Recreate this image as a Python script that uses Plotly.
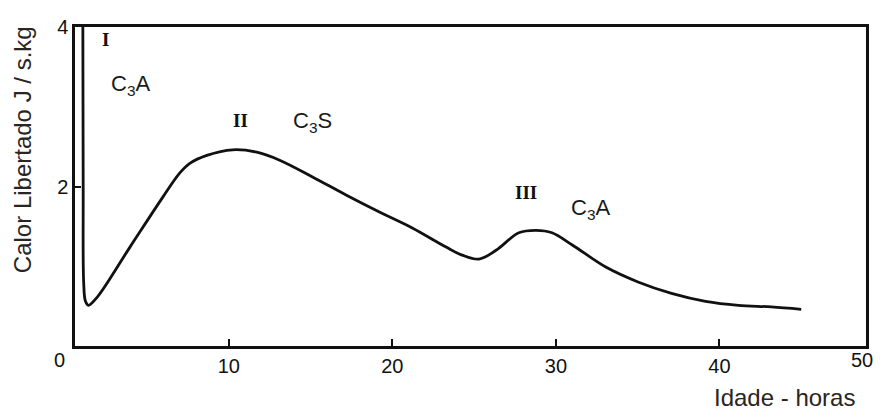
import plotly.graph_objects as go

# Heat of hydration curve (idade em horas, calor libertado J/s.kg)
hours = [1.08, 1.10, 1.13, 1.24, 1.42, 1.95, 3.96, 5.98, 7.01, 7.62, 8.66,
         10.24, 11.71, 13.11, 15.12, 17.20, 19.21, 21.22, 23.29, 24.27, 25.30,
         26.34, 27.74, 28.78, 29.76, 30.98, 33.05, 35.06, 37.07, 39.15, 41.16,
         43.17, 45.00]
heat = [4.00, 2.00, 0.80, 0.56, 0.51, 0.61, 1.24, 1.87, 2.17, 2.29, 2.39,
        2.46, 2.43, 2.33, 2.12, 1.89, 1.68, 1.48, 1.24, 1.14, 1.09,
        1.20, 1.42, 1.45, 1.42, 1.27, 0.99, 0.80, 0.66, 0.56, 0.51,
        0.49, 0.46]

x_tickvals = [10, 20, 30, 40]
x_ticktext = ["10", "20", "30", "40"]
y_tickvals = [2, 4]
y_ticktext = ["2", "4"]

# Peak labels
peak_x = [2.44, 10.73, 28.17]
peak_y = [3.84, 2.83, 1.92]
peak_text = ["I", "II", "III"]
comp_x = [4.02, 15.12, 32.13]
comp_y = [3.27, 2.81, 1.72]
comp_text = ["C<sub>3</sub>A", "C<sub>3</sub>S", "C<sub>3</sub>A"]

fig = go.Figure()
fig.add_trace(go.Scatter(
    x=hours, y=heat, mode="lines",
    line=dict(color="#111111", width=2.8, shape="spline", smoothing=1.0),
    hoverinfo="skip", showlegend=False,
))

annotations = []
for x, y, t in zip(peak_x, peak_y, peak_text):
    annotations.append(dict(x=x, y=y, xref="x", yref="y", text="<b>" + t + "</b>", showarrow=False,
                            font=dict(family="Liberation Serif", size=19, color="#111111"),
                            xanchor="center", yanchor="middle"))
for x, y, t in zip(comp_x, comp_y, comp_text):
    annotations.append(dict(x=x, y=y, xref="x", yref="y", text=t, showarrow=False,
                            font=dict(family="Liberation Sans", size=22, color="#1a1a1a"),
                            xanchor="center", yanchor="middle"))

# end tick labels of the x axis (0 and 50 at the box corners)
annotations.append(dict(x=-0.02, y=-0.045, xref="paper", yref="paper", text="0",
                        showarrow=False, xanchor="center", yanchor="middle",
                        font=dict(family="Liberation Sans", size=20, color="#111111")))
annotations.append(dict(x=0.995, y=-0.045, xref="paper", yref="paper", text="50",
                        showarrow=False, xanchor="center", yanchor="middle",
                        font=dict(family="Liberation Sans", size=20, color="#111111")))

# axis titles
annotations.append(dict(x=0.988, y=-0.163, xref="paper", yref="paper", text="Idade - horas",
                        showarrow=False, xanchor="right", yanchor="middle",
                        font=dict(family="Liberation Sans", size=24, color="#2a2522")))
annotations.append(dict(x=-0.067, y=0.614, xref="paper", yref="paper",
                        text="Calor Libertado J / s.kg", textangle=-90,
                        showarrow=False, xanchor="center", yanchor="middle",
                        font=dict(family="Liberation Sans", size=24, color="#2a2522")))

fig.update_layout(
    width=881, height=410,
    margin=dict(l=75, r=13, t=27, b=64),
    paper_bgcolor="white", plot_bgcolor="white",
    annotations=annotations,
    xaxis=dict(range=[0.6, 48.96], tickvals=x_tickvals, ticktext=x_ticktext,
               ticks="inside", ticklen=7, tickwidth=1.5, tickcolor="#111111",
               showline=True, linecolor="#111111", linewidth=2.5, mirror=True,
               showgrid=False, zeroline=False,
               tickfont=dict(family="Liberation Sans", size=20, color="#111111")),
    yaxis=dict(range=[0, 4], tickvals=y_tickvals, ticktext=y_ticktext,
               ticks="inside", ticklen=6, tickwidth=1.5, tickcolor="#111111",
               showline=True, linecolor="#111111", linewidth=2.5, mirror=True,
               showgrid=False, zeroline=False,
               tickfont=dict(family="Liberation Sans", size=20, color="#111111")),
)

fig.write_html("out.html", config={"displayModeBar": False},
               post_script="document.body.style.margin='0';document.body.style.overflow='hidden';")
